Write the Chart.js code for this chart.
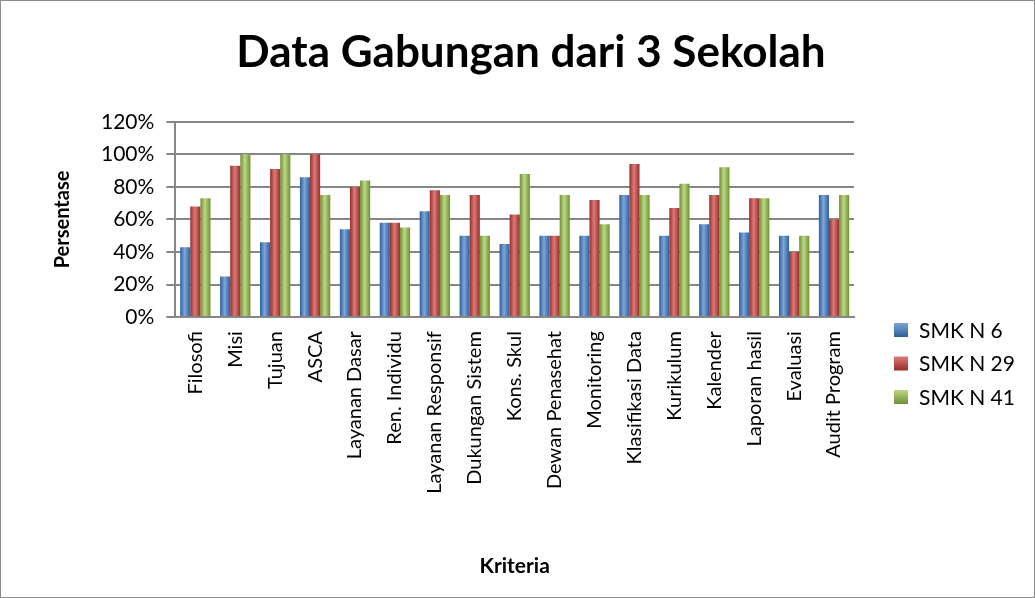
<!DOCTYPE html>
<html>
<head>
<meta charset="utf-8">
<script src="https://cdn.jsdelivr.net/npm/chart.js@4.4.1/dist/chart.umd.min.js"></script>
<style>
  html, body { margin:0; padding:0; background:#fff; }
  #box { width:1033px; height:596px; border:1px solid #8c8c8c; position:relative; }
  canvas { display:block; }
</style>
</head>
<body>
<div id="box"><canvas id="chart" width="1033" height="596"></canvas></div>
<script>
/* ----------------- Data ----------------- */
const kriteria = ["Filosofi","Misi","Tujuan","ASCA","Layanan Dasar","Ren. Individu","Layanan Responsif",
  "Dukungan Sistem","Kons. Skul","Dewan Penasehat","Monitoring","Klasifikasi Data","Kurikulum",
  "Kalender","Laporan hasil","Evaluasi","Audit Program"];
const smkn6  = [43, 25, 46, 86, 54, 58, 65, 50, 45, 50, 50, 75, 50, 57, 52, 50, 75];
const smkn29 = [68, 93, 91, 100, 80, 58, 78, 75, 63, 50, 72, 94, 67, 75, 73, 40, 60];
const smkn41 = [73, 100, 100, 75, 84, 55, 75, 50, 88, 75, 57, 75, 82, 92, 73, 50, 75];
const yTicks = [0, 20, 40, 60, 80, 100, 120];
const judul = "Data Gabungan dari 3 Sekolah";

const FONT = "Lato, 'Open Sans', sans-serif";

/* colour sets: base, dark edge, light centre */
const warna = [
  ["#4f81bd", "#2f5f98", "#7aa6dc"],
  ["#c0504d", "#962e2b", "#dc7a77"],
  ["#9bbb59", "#6f8f35", "#bcd884"]
];

/* ----------------- Gradient per bar ----------------- */
function barFill(c) {
  const w = warna[c.datasetIndex];
  const meta = c.chart.getDatasetMeta(c.datasetIndex);
  const el = meta && meta.data[c.dataIndex];
  if (!el || !isFinite(el.x) || !el.width) return w[0];
  const g = c.chart.ctx.createLinearGradient(el.x - el.width / 2, 0, el.x + el.width / 2, 0);
  g.addColorStop(0, w[1]);
  g.addColorStop(0.45, w[2]);
  g.addColorStop(1, w[1]);
  return g;
}

const ds = (label, data) => ({ label, data, backgroundColor: barFill, borderWidth: 0,
  categoryPercentage: 0.76, barPercentage: 1.0 });

/* ----------------- Title text + legend (drawn by hand) ----------------- */
const judulLegend = {
  id: 'judulLegend',
  afterDraw(chart) {
    const ctx = chart.ctx;
    ctx.save();
    ctx.fillStyle = "#000";
    ctx.textAlign = 'center';
    ctx.textBaseline = 'middle';
    ctx.font = "bold 44px " + FONT;
    ctx.fillText(judul, 530, 52);

    ctx.textAlign = 'left';
    ctx.font = "21px " + FONT;
    chart.data.datasets.forEach((d, i) => {
      const y = 329 + i * 33.5;
      const w = warna[i];
      const g = ctx.createLinearGradient(0, y - 7, 0, y + 7);
      g.addColorStop(0, w[2]); g.addColorStop(1, w[1]);
      ctx.fillStyle = g;
      ctx.fillRect(893, y - 7, 14, 14);
      ctx.fillStyle = "#000";
      ctx.fillText(d.label, 918, y + 1);
    });
    ctx.restore();
  }
};

const chart = new Chart(document.getElementById("chart"), {
  type: 'bar',
  data: {
    labels: kriteria,
    datasets: [ ds("SMK N 6", smkn6), ds("SMK N 29", smkn29), ds("SMK N 41", smkn41) ]
  },
  plugins: [judulLegend],
  options: {
    responsive: false,
    animation: false,
    layout: { padding: { top: 8, right: 180, bottom: 14, left: 46 } },
    plugins: {
      // title box only reserves the space; the text itself is drawn centred on the whole canvas
      title: { display: true, text: judul, color: "rgba(0,0,0,0)",
        font: { family: FONT, size: 44, weight: 'bold' }, padding: { top: 16, bottom: 44 } },
      legend: { display: false },
      tooltip: { enabled: false }
    },
    scales: {
      x: {
        grid: { display: false },
        border: { color: "#868686", width: 2 },
        ticks: { color: "#000", minRotation: 90, maxRotation: 90, autoSkip: false, padding: 6,
          font: { family: FONT, size: 20 } },
        title: { display: true, text: "Kriteria", color: "#000", font: { family: FONT, size: 21, weight: 'bold' }, padding: { top: 54 } }
      },
      y: {
        min: 0, max: 120,
        afterBuildTicks: ax => { ax.ticks = yTicks.map(v => ({ value: v })); },
        grid: { color: "#868686", lineWidth: 2, drawTicks: true, tickLength: 9 },
        border: { color: "#868686", width: 2 },
        ticks: { color: "#000", callback: v => v + "%", font: { family: FONT, size: 21 }, padding: 12 },
        title: { display: true, text: "Persentase", color: "#000", font: { family: FONT, size: 20, weight: 'bold' }, padding: { bottom: 14 } }
      }
    }
  }
});
chart.update();
</script>
</body>
</html>
